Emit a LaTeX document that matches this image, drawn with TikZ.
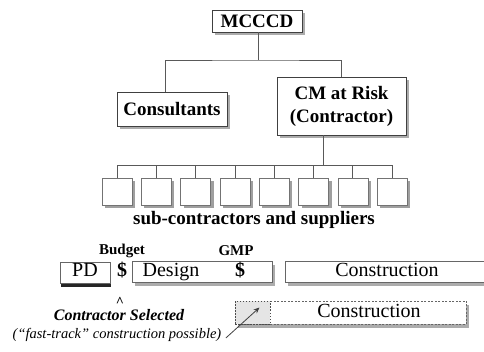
\documentclass[tikz,border=0pt]{standalone}
\usepackage{fontspec}
\setmainfont{Liberation Serif}
\usetikzlibrary{arrows.meta,positioning,shadows}
\tikzset{
  >=Stealth,
  org/.style={rectangle, draw=black!75, fill=white, line width=0.8pt, inner sep=0pt, align=center,
    font=\fontsize{19}{23}\selectfont\bfseries,
    drop shadow={shadow xshift=3pt, shadow yshift=-3pt, fill=gray!65, opacity=1}},
  sub/.style={rectangle, draw=black!55, fill=white, line width=0.6pt, minimum width=30pt, minimum height=27pt,
    drop shadow={shadow xshift=3pt, shadow yshift=-3pt, fill=gray!75, opacity=1}},
  phase/.style={rectangle, draw=black!60, fill=white, line width=0.6pt, minimum height=21pt, inner sep=0pt},
  gshade/.style={drop shadow={shadow xshift=3pt, shadow yshift=-4pt, fill=gray!65, opacity=1}},
  kshade/.style={drop shadow={shadow xshift=1pt, shadow yshift=-4pt, fill=black!85, opacity=1}},
  big/.style={font=\fontsize{20}{23}\selectfont, text height=13pt, text depth=4pt, inner sep=0pt},
  hd/.style={font=\fontsize{15}{17}\selectfont\bfseries},
  ln/.style={draw=black!65, line width=0.8pt}
}

\begin{document}
\begin{tikzpicture}[x=1pt, y=-1pt]
    \useasboundingbox (0,0) rectangle (484,352);

    % Organisation
    \node[org, minimum width=90pt, minimum height=22pt] (mcccd) at (257,21) {MCCCD};
    \node[org, minimum width=110pt, minimum height=34pt] (cons) at (172,109) {Consultants};
    \node[org, minimum width=129pt, minimum height=58pt] (cm) at (341.5,106) {CM at Risk\\(Contractor)};

    \coordinate (bus) at (258,60);
    \draw[ln] (mcccd.south -| bus) -- (bus);
    \draw[ln] ([xshift=-7pt]cons.north) |- (bus) -| (cm.north);

    % Sub-contractors
    \foreach \i in {1,...,8}
        \node[sub] (s\i) at ({117+39.3*(\i-1)},191.5) {};
    \coordinate (subbus) at (323,165);
    \draw[ln] (cm.south -| subbus) -- (subbus);
    \draw[ln] (s1.north |- subbus) -- (s8.north |- subbus);
    \foreach \i in {1,...,8}
        \draw[ln] (s\i.north) -- (s\i.north |- subbus);
    \node[font=\fontsize{19}{23}\selectfont\bfseries] (subs) at (254,220) {sub-contractors and suppliers};

    % Delivery phases
    \node[hd] (budget) at (122,251) {Budget};
    \node[hd] (gmp) at (236,251) {GMP};
    \node[phase, kshade, big, minimum width=50pt] (pd) at (85,272.5) {PD};
    \node[big, font=\fontsize{20}{23}\selectfont\bfseries] (dlr1) at (122,272.5) {\$};
    \node[phase, gshade, minimum width=140pt] (design) at (202,272) {};
    \node[big] (dtxt) at (171,272) {Design};
    \node[big, font=\fontsize{20}{23}\selectfont\bfseries] (dlr2) at (240,272) {\$};
    \node[phase, gshade, minimum width=210pt] (constr) at (390,271.5) {};
    \node[big] (ctxt) at (387,272) {Construction};

    % Fast-track option
    \node[phase, gshade, dash pattern=on 2pt off 1.5pt, minimum width=231pt, minimum height=23pt] (fast) at (350.5,312.5) {};
    \node[rectangle, fill=gray!20, draw=black!70, dash pattern=on 1.5pt off 1.5pt, line width=0.6pt,
        minimum width=35pt, minimum height=23pt, inner sep=0pt] (early) at (252.5,312.5) {};
    \node[big] (ftxt) at (369,312.5) {Construction};

    \node[font=\fontsize{14}{16}\selectfont\bfseries, anchor=base, inner sep=0pt, text depth=0pt] (caret) at (120,306) {\textasciicircum};
    \node[font=\fontsize{16}{18}\selectfont\bfseries\itshape, inner sep=1pt] (sel) at (119,315) {Contractor Selected};
    \node[font=\fontsize{14.5}{16}\selectfont\itshape] (note) at (117,335) {(``fast-track'' construction possible)};
    \draw[-{Stealth[length=6pt,width=5pt]}, black!75, line width=0.8pt] ([xshift=1pt,yshift=-3pt]note.east) -- ([xshift=7pt,yshift=5pt]early.center);

\end{tikzpicture}
\end{document}
